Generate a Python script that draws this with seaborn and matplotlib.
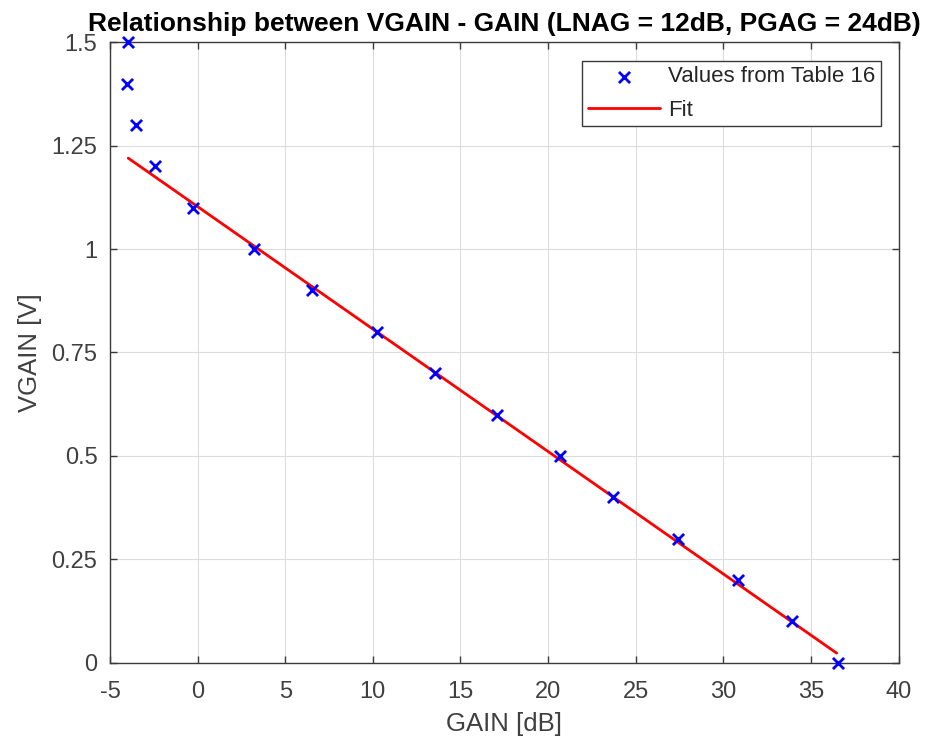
import matplotlib
matplotlib.use("Agg")
import matplotlib.pyplot as plt
import seaborn as sns
import pandas as pd

# data
gain_db = [-3.96, -4.03, -3.54, -2.45, -0.29, 3.21, 6.52, 10.23, 13.53, 17.07,
           20.67, 23.69, 27.39, 30.81, 33.94, 36.54]
vgain_v = [1.5, 1.4, 1.3, 1.2, 1.1, 1.0, 0.9, 0.8, 0.7, 0.6,
           0.5, 0.4, 0.3, 0.2, 0.1, 0.0]
fit_gain = [-3.96, 36.47]
fit_vgain = [1.220, 0.023]
x_ticks = [-5, 0, 5, 10, 15, 20, 25, 30, 35, 40]
y_ticks = [0, 0.25, 0.5, 0.75, 1.0, 1.25, 1.5]
y_tick_labels = ["0", "0.25", "0.5", "0.75", "1", "1.25", "1.5"]

sns.set_theme(style="whitegrid")
plt.rcParams['font.family'] = ['Liberation Sans', 'DejaVu Sans']

fig = plt.figure(figsize=(9.25, 7.4), dpi=100)
ax = fig.add_axes([0.1189, 0.1045, 0.8525, 0.8383])

pts = pd.DataFrame({"GAIN": gain_db, "VGAIN": vgain_v})
fit = pd.DataFrame({"GAIN": fit_gain, "VGAIN": fit_vgain})

sns.lineplot(data=fit, x="GAIN", y="VGAIN", ax=ax, color="#ff0000", linewidth=2,
             label="Fit", zorder=3)
sns.scatterplot(data=pts, x="GAIN", y="VGAIN", ax=ax, marker="x", color="#0000ff",
                s=64, linewidth=2, label="Values from Table 16", zorder=4, clip_on=False)

ax.set_xlim(-5, 40)
ax.set_ylim(0, 1.5)
ax.set_xticks(x_ticks)
ax.set_xticklabels([str(t) for t in x_ticks])
ax.set_yticks(y_ticks)
ax.set_yticklabels(y_tick_labels)

txt = "#404040"
ax.set_facecolor("white")
ax.grid(True, color="#dcdcdc", linewidth=0.8)
for side in ["left", "right", "top", "bottom"]:
    ax.spines[side].set_visible(True)
    ax.spines[side].set_color("#3a3a3a")
    ax.spines[side].set_linewidth(1.0)
ax.tick_params(axis="both", which="both", direction="in", length=5, width=1,
               colors="#3a3a3a", labelcolor=txt, labelsize=17,
               top=True, right=True, bottom=True, left=True)
ax.tick_params(axis="x", pad=13)
ax.tick_params(axis="y", pad=9)

ax.set_xlabel("GAIN [dB]", fontsize=18.5, color=txt, labelpad=7)
ax.set_ylabel("VGAIN [V]", fontsize=18.5, color=txt, labelpad=6.5)
ax.set_title("Relationship between VGAIN - GAIN (LNAG = 12dB, PGAG = 24dB)",
             fontsize=19, fontweight="bold", color="black", pad=8)

handles, labels = ax.get_legend_handles_labels()
order = [labels.index("Values from Table 16"), labels.index("Fit")]
leg = ax.legend([handles[i] for i in order], [labels[i] for i in order],
                loc="upper right", bbox_to_anchor=(0.9775, 0.97), fontsize=16,
                frameon=True, fancybox=False, framealpha=1, edgecolor="#3a3a3a",
                borderpad=0.25, borderaxespad=0.0, handlelength=3.25,
                handletextpad=0.35, labelspacing=0.55)
leg.get_frame().set_linewidth(1.0)
for t in leg.get_texts():
    t.set_color("#262626")

fig.savefig("out.png", dpi=100, facecolor="white")
